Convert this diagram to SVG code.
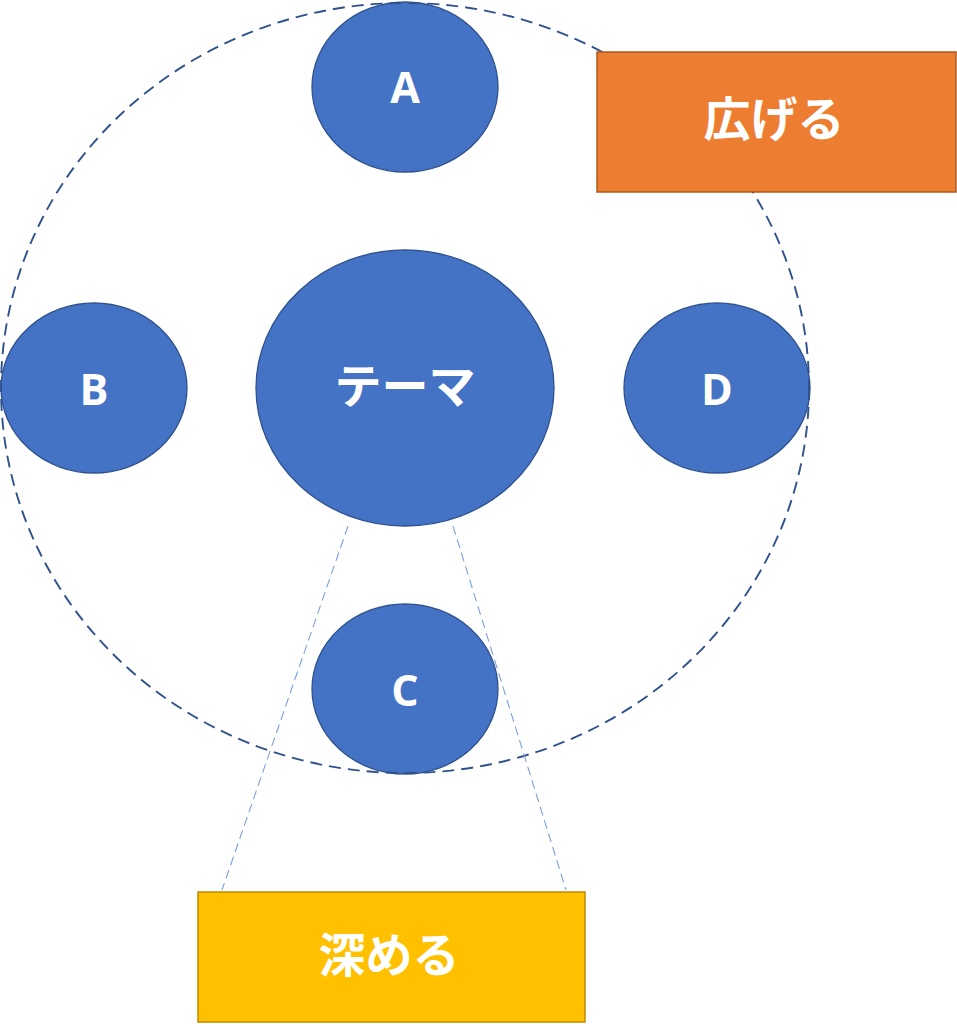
<svg xmlns="http://www.w3.org/2000/svg" width="957" height="1024" viewBox="0 0 957 1024">
<style>
.node{fill:#4472C4;stroke:#2F528F;stroke-width:1.3}
.lbl{fill:#FFFFFF;font-family:"Open Sans","Liberation Sans",sans-serif;font-weight:bold;font-size:43px;text-anchor:middle}
.jp{fill:#FFFFFF;font-family:"Noto Sans CJK JP",sans-serif;font-weight:bold;font-size:47px;text-anchor:middle}
.guide{fill:none;stroke:#2F528F;stroke-width:1.9;stroke-dasharray:12 7}
.conn{stroke:#7C9FDD;stroke-width:1.1;stroke-dasharray:9 5;fill:none}
</style>
<rect x="0" y="0" width="957" height="1024" fill="#FFFFFF"/>
<g id="theme">
<ellipse class="node" cx="405" cy="388" rx="149" ry="138"/>
<text class="jp" x="405" y="403">テーマ</text>
</g>
<g id="nodeA">
<ellipse class="node" cx="405" cy="87" rx="93" ry="85"/>
<text class="lbl" x="405" y="103">A</text>
</g>
<g id="nodeB">
<ellipse class="node" cx="94" cy="388" rx="93" ry="85"/>
<text class="lbl" x="94" y="405">B</text>
</g>
<g id="nodeC">
<ellipse class="node" cx="405" cy="689" rx="93" ry="85"/>
<text class="lbl" x="405" y="706">C</text>
</g>
<g id="nodeD">
<ellipse class="node" cx="717" cy="388" rx="93" ry="85"/>
<text class="lbl" x="717" y="405">D</text>
</g>
<g id="scope">
<ellipse class="guide" cx="405" cy="388" rx="404" ry="385"/>
</g>
<g id="connectors">
<line class="conn" x1="348" y1="526" x2="222" y2="890"/>
<line class="conn" x1="453" y1="526" x2="566" y2="890"/>
</g>
<g id="widen">
<rect x="597" y="52" width="359" height="140" fill="#ED7D31" stroke="#AE5A21" stroke-width="1.5"/>
<text class="jp" x="774" y="136">広げる</text>
</g>
<g id="deepen">
<rect x="198" y="892" width="387" height="130" fill="#FFC000" stroke="#BC8C00" stroke-width="1.5"/>
<text class="jp" x="389" y="972">深める</text>
</g>
</svg>
